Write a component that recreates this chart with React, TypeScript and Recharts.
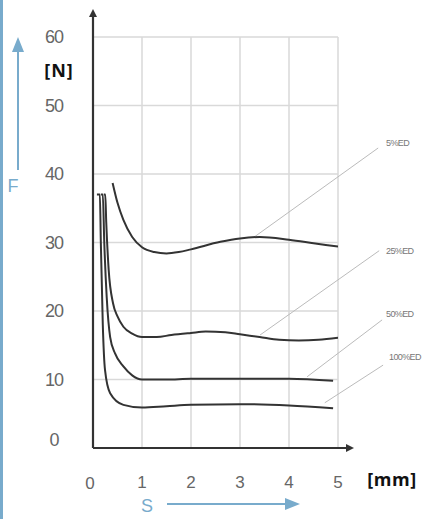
import { LineChart, Line, XAxis, YAxis, CartesianGrid, ReferenceLine } from 'recharts'

const xTicks = [0, 1, 2, 3, 4, 5]
const yTicks = [0, 10, 20, 30, 40, 50, 60]

const ed5 = [
  { x: 0.4, y: 38.7 }, { x: 0.5, y: 35.8 }, { x: 0.62, y: 33.3 }, { x: 0.8, y: 30.8 },
  { x: 1, y: 29.3 }, { x: 1.25, y: 28.6 }, { x: 1.5, y: 28.4 }, { x: 1.75, y: 28.6 },
  { x: 2, y: 29.0 }, { x: 2.6, y: 30.1 }, { x: 3, y: 30.6 }, { x: 3.4, y: 30.8 },
  { x: 4, y: 30.4 }, { x: 4.5, y: 29.9 }, { x: 5, y: 29.4 },
]
const ed25 = [
  { x: 0.22, y: 37 }, { x: 0.25, y: 37 }, { x: 0.27, y: 33 }, { x: 0.32, y: 26 },
  { x: 0.41, y: 21.1 }, { x: 0.5, y: 19.2 }, { x: 0.62, y: 17.7 }, { x: 0.8, y: 16.7 },
  { x: 1, y: 16.2 }, { x: 1.3, y: 16.2 }, { x: 1.6, y: 16.5 }, { x: 2, y: 16.8 },
  { x: 2.3, y: 17 }, { x: 2.7, y: 16.9 }, { x: 3, y: 16.6 }, { x: 3.4, y: 16.2 },
  { x: 3.8, y: 15.8 }, { x: 4.2, y: 15.7 }, { x: 4.6, y: 15.8 }, { x: 5, y: 16.1 },
]
const ed50 = [
  { x: 0.16, y: 37 }, { x: 0.2, y: 37 }, { x: 0.23, y: 30 }, { x: 0.28, y: 22 },
  { x: 0.35, y: 16.2 }, { x: 0.45, y: 13.8 }, { x: 0.62, y: 11.9 }, { x: 0.8, y: 10.6 },
  { x: 1, y: 10 }, { x: 1.5, y: 10 }, { x: 2, y: 10.1 }, { x: 3, y: 10.1 },
  { x: 4, y: 10.1 }, { x: 4.9, y: 9.8 },
]
const ed100 = [
  { x: 0.08, y: 37 }, { x: 0.14, y: 37 }, { x: 0.16, y: 30 }, { x: 0.2, y: 18 },
  { x: 0.245, y: 11.4 }, { x: 0.35, y: 8 }, { x: 0.62, y: 6.3 }, { x: 1, y: 5.9 },
  { x: 1.5, y: 6.1 }, { x: 2, y: 6.3 }, { x: 3, y: 6.4 }, { x: 4, y: 6.2 }, { x: 4.9, y: 5.8 },
]

const seriesLabels = ['5%ED', '25%ED', '50%ED', '100%ED']
// leader lines: [label end, curve end]
const leaders = [
  [{ x: 5.82, y: 43.8 }, { x: 3.27, y: 30.7 }],
  [{ x: 5.84, y: 28.8 }, { x: 3.41, y: 16.5 }],
  [{ x: 5.9, y: 18.7 }, { x: 4.37, y: 10.4 }],
  [{ x: 5.92, y: 12.1 }, { x: 4.73, y: 6.6 }],
]
const labelPos = [
  { left: 386, top: 142 }, { left: 386, top: 250 }, { left: 386, top: 313 }, { left: 389, top: 356 },
]

const font = '"Liberation Sans", Arial, sans-serif'
const boldFont = '"Open Sans", "Liberation Sans", sans-serif'
const blue = '#78abcc'
const ink = '#333'

function XTick({ x, y, payload }: any) {
  const v = payload.value
  return (
    <text x={x + (v === 0 ? -3 : 0)} y={y + (v === 0 ? 39 : 38)} textAnchor="middle" fontSize={17} fill="#666" fontFamily={font}>
      {v}
    </text>
  )
}

function YTick({ x, y, payload }: any) {
  const v = payload.value
  return (
    <text x={x - 37} y={y + (v === 0 ? -2 : 6)} textAnchor="middle" fontSize={18} fill="#666" fontFamily={font} letterSpacing={-1}>
      {v}
    </text>
  )
}

export default function App() {
  return (
    <div style={{ position: 'absolute', left: 0, top: 0, width: 433, height: 519, background: '#fff', fontFamily: font }}>
      <LineChart width={433} height={519} margin={{ top: 37, right: 95, left: 25, bottom: 0 }}>
        <CartesianGrid stroke="#d9d9d9" strokeWidth={1.5} horizontalValues={yTicks.slice(1)} verticalValues={xTicks.slice(1)} />
        <XAxis type="number" dataKey="x" domain={[0, 5]} ticks={xTicks} height={71} axisLine={false} tickLine={false} tickSize={0} tick={<XTick />} allowDataOverflow />
        <YAxis type="number" dataKey="y" domain={[0, 60]} ticks={yTicks} width={68} axisLine={false} tickLine={false} tickSize={0} tick={<YTick />} allowDataOverflow />
        {leaders.map((seg, i) => (
          <ReferenceLine key={i} segment={seg} stroke="#bbb" strokeWidth={1} ifOverflow="visible" />
        ))}
        <ReferenceLine segment={[{ x: 0, y: 0 }, { x: 0, y: 63.5 }]} stroke={ink} strokeWidth={2.2} ifOverflow="visible" />
        <ReferenceLine segment={[{ x: 0, y: 0 }, { x: 5.2, y: 0 }]} stroke={ink} strokeWidth={2.2} ifOverflow="visible" />
        <Line data={ed5} dataKey="y" type="monotone" stroke={ink} strokeWidth={2} dot={false} isAnimationActive={false} />
        <Line data={ed25} dataKey="y" type="monotone" stroke={ink} strokeWidth={2} dot={false} isAnimationActive={false} />
        <Line data={ed50} dataKey="y" type="monotone" stroke={ink} strokeWidth={2} dot={false} isAnimationActive={false} />
        <Line data={ed100} dataKey="y" type="monotone" stroke={ink} strokeWidth={2} dot={false} isAnimationActive={false} />
      </LineChart>
      <svg width={433} height={519} style={{ position: 'absolute', left: 0, top: 0, pointerEvents: 'none' }}>
        <rect x={0} y={0} width={3} height={519} fill={blue} />
        {/* axis arrowheads */}
        <polygon points="93,9 89,17 97,17" fill={ink} />
        <polygon points="354,448 346,444 346,452" fill={ink} />
        {/* F arrow */}
        <line x1={18} y1={170} x2={18} y2={48} stroke={blue} strokeWidth={2} />
        <polygon points="18,37 12,52 24,52" fill={blue} />
        <text x={13} y={192} textAnchor="middle" fontSize={18} fill={blue} fontFamily={font}>F</text>
        {/* S arrow */}
        <line x1={167} y1={504} x2={288} y2={504} stroke={blue} strokeWidth={2} />
        <polygon points="300,504 285,498 285,510" fill={blue} />
        <text x={147} y={512} textAnchor="middle" fontSize={18} fill={blue} fontFamily={font}>S</text>
        <text x={59} y={77} textAnchor="middle" fontSize={18} fontWeight="bold" fill="#111" fontFamily={boldFont} letterSpacing={1}>[N]</text>
        <text x={392} y={486} textAnchor="middle" fontSize={18} fontWeight="bold" fill="#111" fontFamily={boldFont} letterSpacing={0.5}>[mm]</text>
        {seriesLabels.map((s, i) => (
          <text key={s} x={labelPos[i].left} y={labelPos[i].top + 4} fontSize={9} fill="#777" fontFamily={font} letterSpacing={-0.6}>{s}</text>
        ))}
      </svg>
    </div>
  )
}
